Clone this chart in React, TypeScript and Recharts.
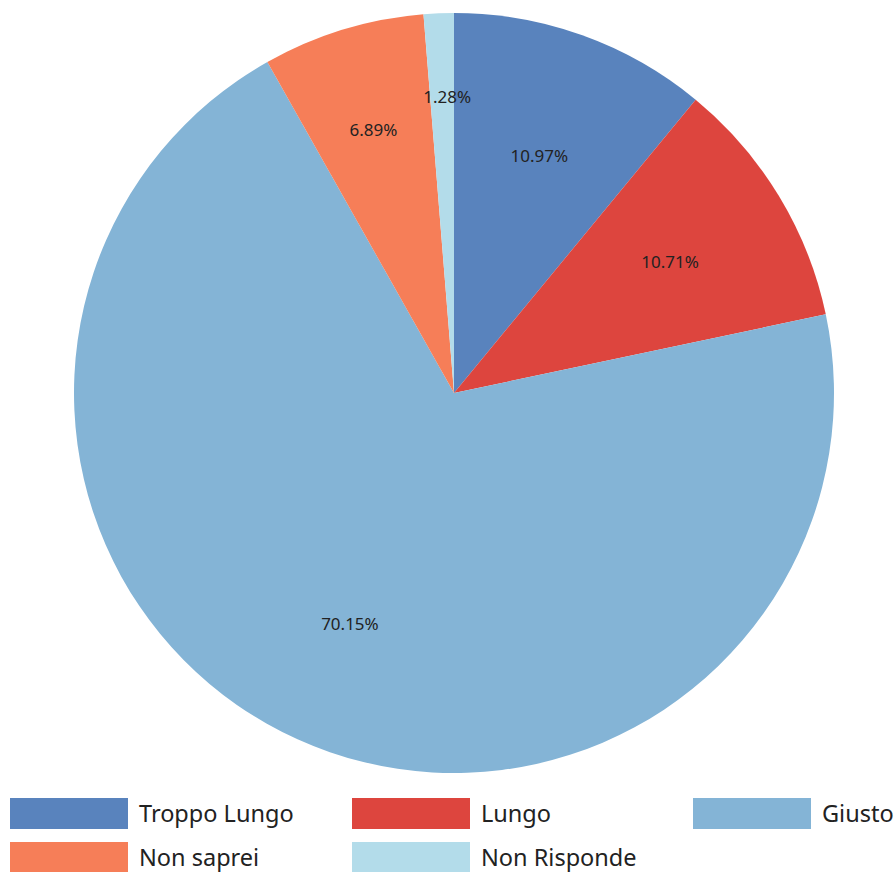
import React from "react";
import { PieChart, Pie, Cell, Legend } from "recharts";

const categories = ["Troppo Lungo", "Lungo", "Giusto", "Non saprei", "Non Risponde"];
const values = [10.97, 10.71, 70.15, 6.89, 1.28];
const colors = ["#5983bd", "#dd453e", "#84b4d6", "#f67e58", "#b3dcea"];

const data = categories.map((name, i) => ({ name, value: values[i] }));

const RADIAN = Math.PI / 180;

const renderLabel = (props: any) => {
  const { cx, cy, midAngle, outerRadius, index, percent } = props;
  const factor = percent < 0.02 ? 0.78 : percent < 0.08 ? 0.724 : 0.665;
  const angle = percent < 0.02 ? midAngle - 1 : midAngle;
  const r = outerRadius * factor;
  const x = cx + r * Math.cos(-angle * RADIAN);
  const y = cy + r * Math.sin(-angle * RADIAN);
  return (
    <text
      x={x}
      y={y}
      fill="#222"
      textAnchor="middle"
      dominantBaseline="central"
      fontSize={17}
      fontFamily="'Noto Sans', sans-serif"
    >
      {values[index].toFixed(2) + "%"}
    </text>
  );
};

const renderLegend = () => (
  <div style={{ position: "relative", width: 896, height: 82 }}>
    {categories.map((c, i) => {
      const col = i % 3;
      const row = Math.floor(i / 3);
      const left = [10, 352, 693][col];
      const top = row * 44;
      return (
        <div
          key={c}
          style={{
            position: "absolute",
            left,
            top,
            display: "flex",
            alignItems: "center",
            height: 31,
            whiteSpace: "nowrap",
          }}
        >
          <div style={{ width: 118, height: 31, background: colors[i] }} />
          <span
            style={{
              marginLeft: 11,
              fontSize: 23.5,
              fontFamily: "'Noto Sans', sans-serif",
              color: "#222",
              position: "relative",
              top: -1,
            }}
          >
            {c}
          </span>
        </div>
      );
    })}
  </div>
);

export default function App() {
  return (
    <div style={{ position: "absolute", left: 0, top: 0, width: 896, height: 872, overflow: "hidden", background: "#fff" }}>
      <PieChart width={896} height={872} margin={{ top: 0, right: 0, bottom: 0, left: 0 }}>
        <Pie
          data={data}
          dataKey="value"
          nameKey="name"
          cx={454}
          cy={393}
          outerRadius={380}
          startAngle={90}
          endAngle={-270}
          label={renderLabel}
          labelLine={false}
          stroke="none"
          isAnimationActive={false}
        >
          {data.map((d, i) => (
            <Cell key={d.name} fill={colors[i]} />
          ))}
        </Pie>
        <Legend
          content={renderLegend}
          wrapperStyle={{ position: "absolute", left: 0, top: 798, width: 896, height: 82 }}
        />
      </PieChart>
    </div>
  );
}
